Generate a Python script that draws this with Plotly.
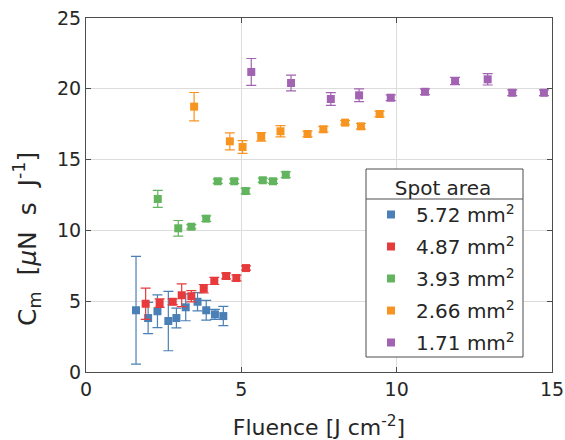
import plotly.graph_objects as go

# ---- data ----
names = ["5.72 mm<sup>2</sup>", "4.87 mm<sup>2</sup>", "3.93 mm<sup>2</sup>",
         "2.66 mm<sup>2</sup>", "1.71 mm<sup>2</sup>"]
colors = ["#4a80b5", "#e63a3c", "#62b45f", "#f89420", "#a263b3"]

x_572 = [1.61, 2.00, 2.30, 2.65, 2.91, 3.21, 3.59, 3.87, 4.15, 4.42]
y_572 = [4.36, 3.81, 4.29, 3.60, 3.81, 4.57, 4.96, 4.36, 4.07, 3.95]
e_572 = [3.80, 1.10, 1.15, 2.10, 0.70, 0.95, 0.65, 0.70, 0.35, 0.68]

x_487 = [1.92, 2.37, 2.79, 3.08, 3.39, 3.79, 4.13, 4.51, 4.84, 5.15]
y_487 = [4.82, 4.87, 4.96, 5.42, 5.35, 5.88, 6.43, 6.78, 6.64, 7.34]
e_487 = [1.10, 0.30, 0.20, 0.80, 0.40, 0.30, 0.25, 0.20, 0.20, 0.15]

x_393 = [2.31, 2.97, 3.39, 3.87, 4.24, 4.77, 5.14, 5.69, 6.02, 6.43]
y_393 = [12.22, 10.15, 10.26, 10.83, 13.47, 13.47, 12.78, 13.54, 13.47, 13.93]
e_393 = [0.60, 0.55, 0.15, 0.20, 0.15, 0.15, 0.20, 0.15, 0.15, 0.20]

x_266 = [3.48, 4.63, 5.04, 5.64, 6.26, 7.13, 7.64, 8.34, 8.85, 9.45]
y_266 = [18.74, 16.29, 15.89, 16.60, 17.00, 16.81, 17.14, 17.61, 17.35, 18.22]
e_266 = [1.00, 0.60, 0.45, 0.30, 0.40, 0.20, 0.20, 0.15, 0.20, 0.20]

x_171 = [5.32, 6.60, 7.88, 8.79, 9.81, 10.91, 11.88, 12.93, 13.72, 14.74]
y_171 = [21.19, 20.41, 19.28, 19.54, 19.37, 19.79, 20.55, 20.67, 19.72, 19.72]
e_171 = [0.95, 0.55, 0.45, 0.45, 0.20, 0.20, 0.25, 0.40, 0.20, 0.20]

xs = [x_572, x_487, x_393, x_266, x_171]
ys = [y_572, y_487, y_393, y_266, y_171]
es = [e_572, e_487, e_393, e_266, e_171]

x_ticks = [0, 5, 10, 15]
y_ticks = [0, 5, 10, 15, 20, 25]

FONT = "DejaVu Sans"
TXT = "#262626"
AX = "#4d4d4d"

W, H = 565, 440
ML, MR, MT, MB = 86, 13, 18, 68
PW, PH = W - ML - MR, H - MT - MB


def px(xp):
    return (xp - ML) / PW


def py(yp):
    return (H - MB - yp) / PH


fig = go.Figure()
for i, (n, c, x, y, e) in enumerate(zip(names, colors, xs, ys, es)):
    fig.add_trace(go.Scatter(
        x=x, y=y, mode="markers", name=n, legendgroup="g%d" % i,
        marker=dict(symbol="square", size=8, color=c),
        error_y=dict(type="data", array=e, visible=True, color=c,
                     thickness=1.2, width=5),
    ))

# legend frame (white box with a rule under the title)
lx0, lx1, ly0, ly1, lsep = 366, 523, 169, 357, 199
shapes = [
    dict(type="rect", xref="paper", yref="paper", layer="above",
         x0=px(lx0), x1=px(lx1), y0=py(ly1), y1=py(ly0),
         fillcolor="white", line=dict(color=AX, width=1)),
    dict(type="line", xref="paper", yref="paper", layer="above",
         x0=px(lx0), x1=px(lx1), y0=py(lsep), y1=py(lsep),
         line=dict(color=AX, width=1)),
]

NB = "\u00a0"
ylabel = ("C<sub>m</sub>" + NB + " [<i>μ</i>N" + NB + " s" + NB + " J<sup>-1</sup>]")

fig.update_layout(
    width=W, height=H,
    margin=dict(l=ML, r=MR, t=MT, b=MB, autoexpand=False),
    paper_bgcolor="white", plot_bgcolor="white",
    font=dict(family=FONT, size=18, color=TXT),
    showlegend=True,
    shapes=shapes,
    legend=dict(
        x=px(lx0), y=py(ly0), xanchor="left", yanchor="top",
        bgcolor="rgba(0,0,0,0)", borderwidth=0,
        font=dict(family=FONT, size=20, color=TXT),
        title=dict(text="Spot area", side="top center",
                   font=dict(family=FONT, size=20, color=TXT)),
        itemwidth=40, tracegroupgap=3,
    ),
    annotations=[dict(
        text=ylabel,
        xref="paper", yref="paper", x=px(27), y=py(239),
        xanchor="center", yanchor="middle", textangle=-90,
        showarrow=False, font=dict(family=FONT, size=25, color=TXT),
    )],
)
fig.update_xaxes(
    range=[0, 15], tickvals=x_ticks, ticktext=[str(v) for v in x_ticks],
    showgrid=True, gridcolor="#dcdcdc", gridwidth=1,
    showline=True, linecolor=AX, linewidth=1, mirror="ticks",
    ticks="inside", ticklen=5, tickcolor=AX,
    zeroline=False, automargin=False,
    tickfont=dict(family=FONT, size=19, color=TXT),
    title=dict(text="Fluence [J cm<sup>-2</sup>]", standoff=22,
               font=dict(family=FONT, size=22, color=TXT)),
)
fig.update_yaxes(
    range=[0, 25], tickvals=y_ticks, ticktext=[str(v) for v in y_ticks],
    showgrid=True, gridcolor="#dcdcdc", gridwidth=1,
    showline=True, linecolor=AX, linewidth=1, mirror="ticks",
    ticks="inside", ticklen=5, tickcolor=AX,
    zeroline=False, automargin=False,
    tickfont=dict(family=FONT, size=19, color=TXT),
)

fig.write_html("out.html")
